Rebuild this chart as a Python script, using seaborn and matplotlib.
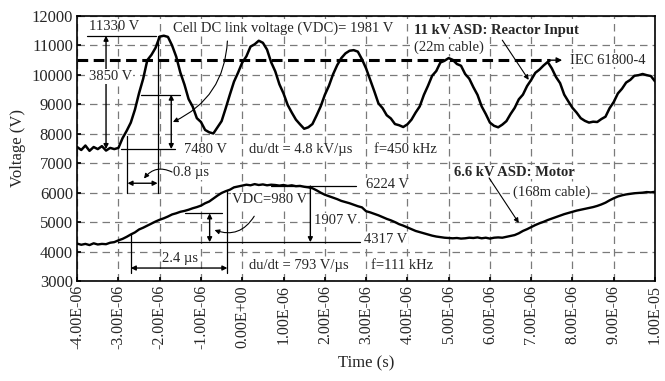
# Reflected voltage at reactor input vs motor terminals (11 kV / 6.6 kV ASD)

import numpy as np
import pandas as pd
import matplotlib
matplotlib.use('Agg')
import matplotlib.pyplot as plt
import seaborn as sns

# scope sample instants, in microseconds (0.1 us step)
time_us = np.linspace(-4.0, 10.0, 141)

# 11 kV ASD, reactor input (22 m cable)
reactor_v = [
    7550, 7450, 7600, 7420, 7550, 7480, 7580, 7430, 7520, 7480,
    7520, 7850, 8100, 8380, 8820, 9380, 9870, 10500, 10680, 10920,
    11300, 11330, 11290, 11000, 10620, 10080, 9670, 9180, 8920, 8530,
    8400, 8130, 8050, 8010, 8220, 8430, 8870, 9330, 9770, 10080,
    10420, 10630, 10960, 11040, 11160, 11090, 10860, 10430, 10120, 9680,
    9370, 8980, 8720, 8480, 8320, 8170, 8220, 8330, 8620, 8930,
    9320, 9630, 10020, 10330, 10570, 10730, 10820, 10840, 10790, 10530,
    10220, 9830, 9440, 9030, 8870, 8630, 8520, 8330, 8290, 8230,
    8320, 8480, 8720, 8930, 9320, 9630, 9970, 10130, 10420, 10480,
    10570, 10510, 10370, 10310, 10030, 9870, 9580, 9320, 8930, 8670,
    8380, 8270, 8220, 8310, 8430, 8670, 8880, 9170, 9330, 9620,
    9830, 10070, 10180, 10320, 10440, 10220, 9930, 9720, 9330, 9100,
    8880, 8720, 8530, 8440, 8380, 8410, 8400, 8500, 8580, 8870,
    9080, 9370, 9530, 9740, 9830, 9970, 9990, 10030, 9990, 9960,
    9780,
]

# 6.6 kV ASD, motor terminals (168 m cable)
motor_v = [
    4270, 4230, 4260, 4220, 4280, 4240, 4260, 4250, 4300, 4320,
    4380, 4430, 4500, 4580, 4650, 4750, 4810, 4880, 4950, 5020,
    5080, 5130, 5190, 5260, 5300, 5350, 5380, 5420, 5470, 5510,
    5560, 5640, 5700, 5800, 5900, 5990, 6050, 6100, 6180, 6210,
    6240, 6270, 6250, 6290, 6260, 6280, 6250, 6270, 6260, 6240,
    6260, 6230, 6250, 6220, 6230, 6200, 6180, 6150, 6080, 6000,
    5930, 5880, 5830, 5780, 5720, 5680, 5640, 5590, 5540, 5500,
    5370, 5330, 5280, 5230, 5170, 5110, 5060, 5000, 4930, 4880,
    4820, 4760, 4700, 4660, 4620, 4580, 4540, 4510, 4490, 4470,
    4460, 4450, 4460, 4440, 4450, 4470, 4460, 4480, 4450, 4470,
    4440, 4470, 4480, 4470, 4500, 4530, 4560, 4620, 4700, 4760,
    4830, 4900, 4960, 5010, 5070, 5120, 5170, 5220, 5270, 5310,
    5350, 5390, 5420, 5450, 5480, 5510, 5550, 5600, 5660, 5740,
    5810, 5870, 5910, 5940, 5960, 5980, 5990, 6000, 6020, 6010,
    6030,
]

# annotated levels
reactor_peak = 11330
reactor_base = 7480
reactor_vdc_top = 9330
motor_peak = 6224
motor_base = 4317
motor_vdc = 980
iec_limit = 10500

us = 1e-6
df = pd.DataFrame({'time': time_us * us, 'reactor': reactor_v, 'motor': motor_v})

sns.set_theme(style='ticks')
plt.rcParams['font.family'] = ['Liberation Serif', 'DejaVu Serif']

fig = plt.figure(figsize=(6.65, 3.81), dpi=100)
ax = fig.add_axes([0.116, 0.2625, 0.869, 0.6955])

sns.lineplot(data=df, x='time', y='reactor', ax=ax, color='black', lw=1.8)
sns.lineplot(data=df, x='time', y='motor', ax=ax, color='black', lw=1.7)

ax.set_xlim(-4 * us, 10 * us)
ax.set_ylim(3000, 12000)
ax.set_xticks(np.arange(-4, 11, 1) * us)
ax.set_yticks(np.arange(3000, 12001, 1000))
ax.set_xticklabels(['{:.2E}'.format(v * us) for v in range(-4, 11)], rotation=90, fontsize=11.5)
ax.tick_params(axis='y', labelsize=12)
ax.tick_params(direction='in', length=3, color='black', pad=3)
ax.grid(True, color='#7a7a7a', linestyle=(0, (6, 4)), lw=0.9)
for s in ax.spines.values():
    s.set_color('black')
    s.set_linewidth(1.2)
ax.set_xlabel('Time (s)', fontsize=12)
ax.set_ylabel('Voltage (V)', fontsize=12)

wb = dict(facecolor='white', edgecolor='none', pad=0.5)
fs = 10.5
dbl = dict(arrowstyle='<|-|>', color='black', lw=1.0, mutation_scale=7, shrinkA=0, shrinkB=0)
one = dict(arrowstyle='-|>', color='black', lw=1.0, mutation_scale=7, shrinkA=0, shrinkB=0)
thin = dict(color='black', lw=0.9)

# IEC limit
ax.plot([-4 * us, 7.45 * us], [iec_limit, iec_limit], color='black', lw=2.2, linestyle=(0, (3.5, 1.8)))
ax.annotate('', xy=(7.75 * us, iec_limit), xytext=(7.45 * us, iec_limit),
            arrowprops=dict(arrowstyle='-|>', color='black', lw=1.0, mutation_scale=8, shrinkA=0, shrinkB=0))
ax.text(7.95 * us, iec_limit, 'IEC 61800-4', fontsize=fs, va='center', ha='left', bbox=wb)

# reactor overshoot
ax.plot([-3.76 * us, -2.1 * us], [reactor_peak, reactor_peak], **thin)
ax.text(-3.1 * us, reactor_peak + 80, '11330 V', fontsize=fs, ha='center', va='bottom')
ax.annotate('', xy=(-3.3 * us, reactor_base), xytext=(-3.3 * us, reactor_peak), arrowprops=dbl)
ax.text(-3.18 * us, 9950, '3850 V', fontsize=fs, ha='center', va='center', bbox=wb)

ax.plot([-2.94 * us, -1.62 * us], [reactor_base, reactor_base], **thin)
ax.text(-1.4 * us, reactor_base, '7480 V', fontsize=fs, ha='left', va='center', bbox=wb)
ax.plot([-2.46 * us, -1.5 * us], [reactor_vdc_top, reactor_vdc_top], **thin)
ax.annotate('', xy=(-1.72 * us, reactor_base), xytext=(-1.72 * us, reactor_vdc_top), arrowprops=dbl)
ax.text(-1.67 * us, 11600, 'Cell DC link voltage (VDC)= 1981 V', fontsize=fs, ha='left', va='center', bbox=wb)
ax.annotate('', xy=(-1.68 * us, 8400), xytext=(-0.36 * us, 11150),
            arrowprops=dict(arrowstyle='-|>', color='black', lw=0.8, mutation_scale=7,
                            connectionstyle='arc3,rad=-0.3', shrinkA=0, shrinkB=0))

# 0.8 us rise
ax.plot([-2.78 * us, -2.78 * us], [7920, 5980], **thin)
ax.plot([-2.05 * us, -2.05 * us], [reactor_peak, 5980], **thin)
ax.annotate('', xy=(-2.78 * us, 6320), xytext=(-2.05 * us, 6320), arrowprops=dbl)
ax.text(-1.67 * us, 6680, '0.8 µs', fontsize=fs, ha='left', va='center', bbox=wb)
ax.annotate('', xy=(-2.38 * us, 6480), xytext=(-1.7 * us, 6700),
            arrowprops=dict(arrowstyle='-|>', color='black', lw=0.8, mutation_scale=7,
                            connectionstyle='arc3,rad=0.4', shrinkA=0, shrinkB=0))

ax.text(0.17 * us, 7450, 'du/dt = 4.8 kV/µs', fontsize=fs, ha='left', va='center', bbox=wb)
ax.text(3.2 * us, 7450, 'f=450 kHz', fontsize=fs, ha='left', va='center', bbox=wb)

ax.text(4.16 * us, 11520, '11 kV ASD: Reactor Input', fontsize=fs, fontweight='bold', ha='left', va='center', bbox=wb)
ax.text(4.16 * us, 10950, '(22m cable)', fontsize=fs, ha='left', va='center', bbox=wb)
ax.annotate('', xy=(6.94 * us, 9830), xytext=(6.3 * us, 11180),
            arrowprops=dict(arrowstyle='-|>', color='black', lw=0.8, mutation_scale=7, shrinkA=0, shrinkB=0))

# motor overshoot
ax.plot([0.69 * us, 2.75 * us], [motor_peak, motor_peak], **thin)
ax.text(2.99 * us, motor_peak + 40, '6224 V', fontsize=fs, ha='left', va='center', bbox=wb)
ax.annotate('', xy=(1.65 * us, motor_base), xytext=(1.65 * us, motor_peak), arrowprops=one)
ax.text(1.75 * us, 5070, '1907 V', fontsize=fs, ha='left', va='center', bbox=wb)
ax.plot([-3.0 * us, 2.85 * us], [motor_base, motor_base], **thin)
ax.text(2.96 * us, 4400, '4317 V', fontsize=fs, ha='left', va='center', bbox=wb)

ax.plot([-1.39 * us, -0.5 * us], [motor_base + motor_vdc, motor_base + motor_vdc], **thin)
ax.annotate('', xy=(-0.79 * us, motor_base), xytext=(-0.79 * us, motor_base + motor_vdc), arrowprops=dbl)
ax.text(-0.26 * us, 5760, 'VDC=980 V', fontsize=fs, ha='left', va='center', bbox=wb)
ax.annotate('', xy=(-0.67 * us, 4730), xytext=(0.29 * us, 5200),
            arrowprops=dict(arrowstyle='-|>', color='black', lw=0.8, mutation_scale=7,
                            connectionstyle='arc3,rad=-0.4', shrinkA=0, shrinkB=0))

ax.plot([-2.7 * us, -2.7 * us], [4630, 3270], **thin)
ax.plot([-0.36 * us, -0.36 * us], [6090, 3270], **thin)
ax.annotate('', xy=(-2.7 * us, 3440), xytext=(-0.36 * us, 3440), arrowprops=dbl)
ax.text(-1.5 * us, 3760, '2.4 µs', fontsize=fs, ha='center', va='center', bbox=wb)

ax.text(0.17 * us, 3540, 'du/dt = 793 V/µs', fontsize=fs, ha='left', va='center', bbox=wb)
ax.text(3.11 * us, 3540, 'f=111 kHz', fontsize=fs, ha='left', va='center', bbox=wb)

ax.text(5.14 * us, 6700, '6.6 kV ASD: Motor', fontsize=fs, fontweight='bold', ha='left', va='center', bbox=wb)
ax.text(6.56 * us, 6020, '(168m cable)', fontsize=fs, ha='left', va='center', bbox=wb)
ax.annotate('', xy=(6.7 * us, 4970), xytext=(5.98 * us, 6500),
            arrowprops=dict(arrowstyle='-|>', color='black', lw=0.8, mutation_scale=7, shrinkA=0, shrinkB=0))

fig.savefig('out.png', dpi=100)
